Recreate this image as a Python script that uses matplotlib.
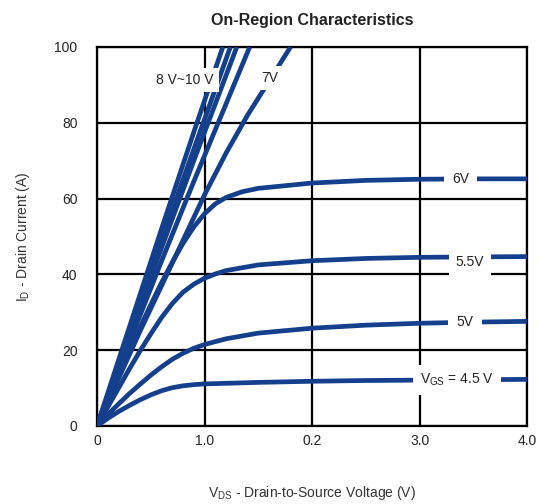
import matplotlib
matplotlib.use("Agg")
import matplotlib.pyplot as plt

plt.rcParams["font.family"] = ["Liberation Sans", "DejaVu Sans"]

# Kategorie / etykiety osi
x_ticks = [0, 1, 2, 3, 4]
x_tick_labels = ["0", "1.0", "0.2", "3.0", "4.0"]
y_ticks = [0, 20, 40, 60, 80, 100]

# Krzywe I_D(V_DS)
v_45 = [0, 0.1, 0.2, 0.3, 0.4, 0.5, 0.6, 0.7, 0.8, 0.9, 1.0, 1.5, 2.0, 2.5, 3.0, 3.5, 4.0]
i_45 = [0, 2.0, 3.8, 5.4, 6.9, 8.2, 9.3, 10.1, 10.6, 10.9, 11.1, 11.5, 11.8, 12.0, 12.1, 12.2, 12.3]

v_50 = [0, 0.1, 0.2, 0.3, 0.4, 0.5, 0.6, 0.7, 0.8, 0.9, 1.0, 1.2, 1.5, 2.0, 2.5, 3.0, 3.5, 4.0]
i_50 = [0, 3.0, 5.8, 8.5, 11.0, 13.4, 15.6, 17.6, 19.2, 20.5, 21.5, 23.0, 24.5, 25.8, 26.6, 27.1, 27.4, 27.6]

v_55 = [0, 0.1, 0.2, 0.3, 0.4, 0.5, 0.6, 0.7, 0.8, 0.9, 1.0, 1.1, 1.2, 1.5, 2.0, 2.5, 3.0, 3.5, 4.0]
i_55 = [0, 5.0, 10.0, 15.0, 19.8, 24.3, 28.6, 32.3, 35.3, 37.4, 39.0, 40.1, 41.0, 42.5, 43.6, 44.2, 44.5, 44.6, 44.7]

v_60 = [0, 0.1, 0.2, 0.3, 0.4, 0.5, 0.6, 0.7, 0.8, 0.9, 1.0, 1.1, 1.2, 1.35, 1.5, 2.0, 2.5, 3.0, 3.5, 4.0]
i_60 = [0, 6.5, 13.0, 19.5, 26.0, 32.0, 37.8, 43.2, 48.2, 52.5, 56.0, 58.6, 60.3, 61.8, 62.7, 64.1, 64.8, 65.1, 65.2, 65.2]

v_70 = [0, 0.2, 0.4, 0.6, 0.8, 1.0, 1.2, 1.4, 1.6, 1.8]
i_70 = [0, 12.5, 25.0, 37.0, 49.0, 61.0, 72.0, 82.0, 91.0, 100.0]

# Grupa 8V~10V (strome krzywe)
v_steep = [
    [0, 0.3, 0.6, 0.9, 1.17],
    [0, 0.3, 0.6, 0.9, 1.24],
    [0, 0.3, 0.6, 0.9, 1.30],
    [0, 0.3, 0.6, 0.9, 1.42],
]
i_steep = [
    [0, 26.0, 52.0, 77.5, 100.0],
    [0, 24.5, 49.0, 73.0, 100.0],
    [0, 23.5, 47.0, 70.0, 100.0],
    [0, 22.0, 43.5, 64.5, 100.0],
]

BLUE = "#143f8c"

fig = plt.figure(figsize=(5.56, 5.04), dpi=100)
ax = fig.add_axes([0.1745, 0.1548, 0.7735, 0.752])

for v, i in zip(v_steep, i_steep):
    ax.plot(v, i, color=BLUE, lw=3.4, solid_capstyle="butt", zorder=3)
for v, i in [(v_70, i_70), (v_60, i_60), (v_55, i_55), (v_50, i_50), (v_45, i_45)]:
    ax.plot(v, i, color=BLUE, lw=3.4, solid_capstyle="butt", solid_joinstyle="round", zorder=3)

# Etykiety krzywych (biale tlo przerywa linie)
box = dict(boxstyle="square,pad=0.35", fc="white", ec="none")
lab_kw = dict(fontsize=10, color="#222222", ha="center", va="center", zorder=5, bbox=box)
ax.text(0.82, 91.3, "8 V~10 V", **lab_kw)
ax.text(1.61, 91.8, "7V", **lab_kw)
ax.text(3.38, 65.2, "6V", **dict(lab_kw, bbox=dict(box, boxstyle="square,pad=0.6")))
ax.text(3.47, 43.3, "5.5V", **dict(lab_kw, bbox=dict(box, boxstyle="square,pad=0.5")))
ax.text(3.42, 27.4, "5V", **dict(lab_kw, bbox=dict(box, boxstyle="square,pad=0.6")))
ax.text(3.35, 12.1, r"V$_\mathregular{GS}$ = 4.5 V",
        **dict(lab_kw, bbox=dict(box, boxstyle="square,pad=0.5")))

ax.set_xlim(0, 4)
ax.set_ylim(0, 100)
ax.set_xticks(x_ticks)
ax.set_xticklabels(x_tick_labels)
ax.set_yticks(y_ticks)
ax.tick_params(length=0, labelsize=10, colors="#222222")
ax.tick_params(axis="y", pad=14)
ax.tick_params(axis="x", pad=6)
ax.grid(True, color="black", lw=1.6, zorder=1)
ax.set_axisbelow(True)
for s in ax.spines.values():
    s.set_linewidth(1.6)
    s.set_zorder(2)

ax.set_title("On-Region Characteristics", fontsize=11.5, fontweight="bold",
             color="#222222", pad=16)
ax.set_xlabel(r"V$_\mathregular{DS}$ - Drain-to-Source Voltage (V)", fontsize=10,
              color="#333333", labelpad=26)
ax.set_ylabel(r"I$_\mathregular{D}$ - Drain Current (A)", fontsize=10,
              color="#333333", labelpad=16)

fig.savefig("out.png", dpi=100)
